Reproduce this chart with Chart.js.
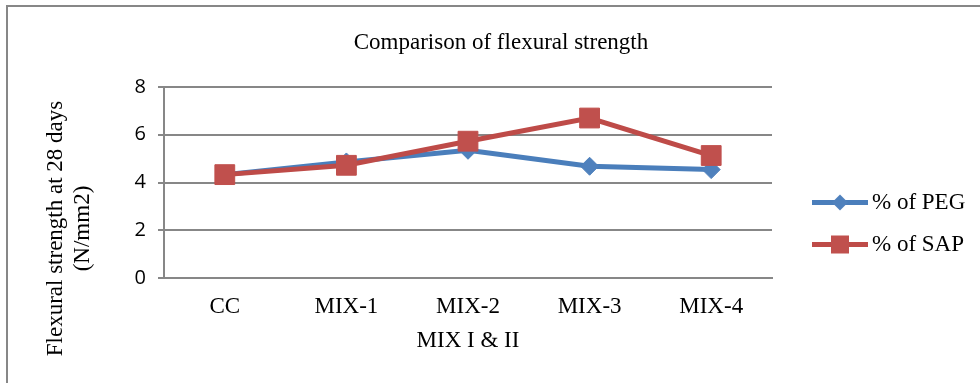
<!DOCTYPE html>
<html>
<head>
<meta charset="utf-8">
<script src="https://cdn.jsdelivr.net/npm/chart.js@4/dist/chart.umd.min.js"></script>
<style>
  html, body { margin: 0; padding: 0; background: #fff; }
  #wrap { width: 980px; height: 383px; position: relative; }
</style>
</head>
<body>
<div id="wrap"><canvas id="c" width="980" height="383"></canvas></div>
<script>
// ---- data ----
const categories = ["CC", "MIX-1", "MIX-2", "MIX-3", "MIX-4"];
const pegValues = [4.33, 4.86, 5.35, 4.68, 4.54];
const sapValues = [4.33, 4.72, 5.73, 6.70, 5.13];
const seriesNames = ["% of PEG", "% of SAP"];
const yTicks = [0, 2, 4, 6, 8];
const chartTitle = "Comparison of flexural strength";
const xTitle = "MIX I & II";
const yTitleLines = ["Flexural strength at 28 days", "(N/mm2)"];

const SERIF = "'Liberation Serif', 'Times New Roman', serif";
const SANS = "'Open Sans', 'Liberation Sans', sans-serif";
const BLUE = "#4A7EBB";
const RED = "#BE4B48";
const GRID = "#878787";

const decor = {
  id: "decor",
  beforeDraw(chart) {
    const ctx = chart.ctx;
    ctx.save();
    ctx.fillStyle = "#fff";
    ctx.fillRect(0, 0, chart.width, chart.height);
    ctx.strokeStyle = GRID;
    ctx.lineWidth = 2;
    ctx.beginPath();
    ctx.moveTo(7, chart.height);
    ctx.lineTo(7, 6);
    ctx.lineTo(chart.width, 6);
    ctx.stroke();
    ctx.restore();
  },
  afterDraw(chart) {
    const ctx = chart.ctx;
    const a = chart.chartArea;
    ctx.save();
    ctx.fillStyle = "#000";
    ctx.font = "23px " + SERIF;
    ctx.textAlign = "center";
    ctx.textBaseline = "middle";
    // title
    ctx.fillText(chartTitle, chart.width / 2 + 11, 43);
    // x title
    ctx.fillText(xTitle, (a.left + a.right) / 2, a.bottom + 63);
    // y title
    const cy = (a.top + a.bottom) / 2 + 46;
    ctx.save();
    ctx.translate(a.left - 108, cy);
    ctx.rotate(-Math.PI / 2);
    ctx.fillText(yTitleLines[0], 0, 0);
    ctx.restore();
    ctx.save();
    ctx.translate(a.left - 81, cy);
    ctx.rotate(-Math.PI / 2);
    ctx.fillText(yTitleLines[1], 0, 0);
    ctx.restore();
    // legend
    const rowsY = [(a.top + a.bottom) / 2 + 20, (a.top + a.bottom) / 2 + 62];
    const x0 = a.right + 40, x1 = a.right + 96;
    chart.data.datasets.forEach((ds, i) => {
      const y = rowsY[i];
      ctx.strokeStyle = ds.borderColor;
      ctx.lineWidth = 5;
      ctx.beginPath();
      ctx.moveTo(x0, y);
      ctx.lineTo(x1, y);
      ctx.stroke();
      ctx.fillStyle = ds.pointBackgroundColor;
      const cx = (x0 + x1) / 2;
      if (ds.pointStyle === "rectRot") {
        const r = 8;
        ctx.beginPath();
        ctx.moveTo(cx - r, y); ctx.lineTo(cx, y - r); ctx.lineTo(cx + r, y); ctx.lineTo(cx, y + r);
        ctx.closePath(); ctx.fill();
      } else {
        const s = 9;
        ctx.fillRect(cx - s, y - s, 2 * s, 2 * s);
      }
      ctx.fillStyle = "#000";
      ctx.textAlign = "left";
      ctx.fillText(ds.label, x1 + 4, y);
    });
    ctx.restore();
  }
};

new Chart(document.getElementById("c"), {
  type: "line",
  data: {
    labels: categories,
    datasets: [
      {
        label: seriesNames[0], data: pegValues, order: 1,
        borderColor: BLUE, backgroundColor: "#4F81BD",
        pointBackgroundColor: "#4F81BD", pointBorderColor: "#4F81BD",
        borderWidth: 5, pointStyle: "rectRot", pointRadius: 9, pointBorderWidth: 1,
        tension: 0, fill: false
      },
      {
        label: seriesNames[1], data: sapValues, order: 0,
        borderColor: RED, backgroundColor: "#C0504D",
        pointBackgroundColor: "#C0504D", pointBorderColor: "#C0504D",
        borderWidth: 5, pointStyle: "rect", pointRadius: 14, pointBorderWidth: 1,
        tension: 0, fill: false
      }
    ]
  },
  options: {
    responsive: false,
    animation: false,
    devicePixelRatio: 1,
    layout: { padding: { left: 0, top: 87, right: 208, bottom: 0 } },
    plugins: { legend: { display: false }, title: { display: false }, tooltip: { enabled: false } },
    scales: {
      x: {
        offset: true,
        grid: { display: false, drawTicks: false },
        border: { display: true, color: GRID, width: 2 },
        ticks: { color: "#000", font: { family: SERIF, size: 23 }, padding: 15, maxRotation: 0, autoSkip: false },
        afterFit(s) { s.height = 105; }
      },
      y: {
        min: 0, max: 8,
        afterBuildTicks(s) { s.ticks = yTicks.map(v => ({ value: v })); },
        grid: { color: GRID, lineWidth: 2, tickLength: 6, drawTicks: true },
        border: { display: true, color: GRID, width: 2 },
        ticks: { color: "#000", font: { family: SANS, size: 20 }, padding: 12 },
        afterFit(s) { s.width = 164; }
      }
    }
  },
  plugins: [decor]
});
</script>
</body>
</html>
